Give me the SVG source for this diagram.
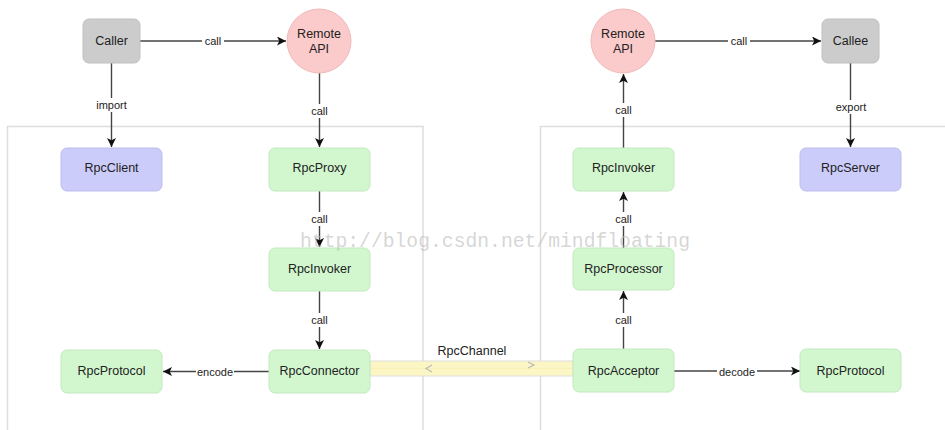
<svg xmlns="http://www.w3.org/2000/svg" width="945" height="430" viewBox="0 0 945 430">
<style>
text{font-family:"Liberation Sans",Arial,sans-serif;fill:#222}
.n{font-size:12.5px;text-anchor:middle;dominant-baseline:central}
.l{font-size:11px;text-anchor:middle;dominant-baseline:central}
.lb{fill:#fff}
.e{stroke:#444;stroke-width:1.4;fill:none}
.green{fill:#d2f7cf;stroke:#c3e8c0;stroke-width:1}
.blue{fill:#ccccfa;stroke:#bdbdee;stroke-width:1}
.gray{fill:#cccccc;stroke:#c0c0c0;stroke-width:1}
.pink{fill:#fbcaca;stroke:#f0baba;stroke-width:1}
.cont{fill:none;stroke:#dddddd;stroke-width:1.5}
</style>
<defs>
<marker id="ah" viewBox="0 0 10 10" refX="10" refY="5" markerWidth="9" markerHeight="9" markerUnits="userSpaceOnUse" orient="auto">
<path d="M0,0 L10,5 L0,10 L2.5,5 Z" fill="#111"/>
</marker>
</defs>
<rect width="945" height="430" fill="#fff"/>
<g id="containers">
<rect class="cont" x="7.5" y="126.5" width="415.5" height="320"/>
<rect class="cont" x="540.5" y="126.5" width="420" height="320"/>
</g>
<g id="connectors">
<line class="e" x1="140" y1="41" x2="286" y2="41" marker-end="url(#ah)"/>
<rect class="lb" x="202" y="34" width="22" height="14"/><text class="l" x="213" y="41">call</text>
<line class="e" x1="111.5" y1="63" x2="111.5" y2="147" marker-end="url(#ah)"/>
<rect class="lb" x="94" y="98" width="36" height="14"/><text class="l" x="111.5" y="105">import</text>
<line class="e" x1="319.5" y1="73" x2="319.5" y2="147" marker-end="url(#ah)"/>
<rect class="lb" x="308" y="104" width="23" height="14"/><text class="l" x="319.5" y="111">call</text>
<line class="e" x1="319.5" y1="191" x2="319.5" y2="247" marker-end="url(#ah)"/>
<rect class="lb" x="308" y="212" width="23" height="14"/><text class="l" x="319.5" y="219">call</text>
<line class="e" x1="319.5" y1="291" x2="319.5" y2="349" marker-end="url(#ah)"/>
<rect class="lb" x="308" y="313" width="23" height="14"/><text class="l" x="319.5" y="320">call</text>
<line class="e" x1="269" y1="371.5" x2="163" y2="371.5" marker-end="url(#ah)"/>
<rect class="lb" x="196" y="364" width="38" height="14"/><text class="l" x="215" y="371.5">encode</text>
<line class="e" x1="655" y1="41" x2="821" y2="41" marker-end="url(#ah)"/>
<rect class="lb" x="728" y="34" width="22" height="14"/><text class="l" x="739" y="41">call</text>
<line class="e" x1="850.5" y1="63" x2="850.5" y2="147" marker-end="url(#ah)"/>
<rect class="lb" x="832" y="100" width="38" height="14"/><text class="l" x="851" y="107">export</text>
<line class="e" x1="623.5" y1="148" x2="623.5" y2="74" marker-end="url(#ah)"/>
<rect class="lb" x="612" y="103" width="23" height="14"/><text class="l" x="623.5" y="110">call</text>
<line class="e" x1="623.5" y1="248" x2="623.5" y2="192" marker-end="url(#ah)"/>
<rect class="lb" x="612" y="212" width="23" height="14"/><text class="l" x="623.5" y="219">call</text>
<line class="e" x1="623.5" y1="349" x2="623.5" y2="291" marker-end="url(#ah)"/>
<rect class="lb" x="612" y="313" width="23" height="14"/><text class="l" x="623.5" y="320">call</text>
<line class="e" x1="674" y1="371" x2="800" y2="371" marker-end="url(#ah)"/>
<rect class="lb" x="717" y="364" width="40" height="14"/><text class="l" x="737" y="371.5">decode</text>
</g>
<g id="RpcChannel">
<rect x="370" y="361" width="203" height="15" fill="#fbf6c3" stroke="#dedede" stroke-width="1"/>
<line x1="370" y1="368.5" x2="573" y2="368.5" stroke="#f5eaa8" stroke-width="0.5"/>
<path d="M528,362 L534,365 L528,368" fill="none" stroke="#bbb" stroke-width="1.2"/>
<path d="M432,365 L426,368.5 L432,372" fill="none" stroke="#bbb" stroke-width="1.2"/>
<text x="472" y="351" style="font-size:12.5px;text-anchor:middle;dominant-baseline:central">RpcChannel</text>
</g>
<g id="Caller"><rect class="gray" x="83" y="19" width="57" height="44" rx="6"/><text class="n" x="111.5" y="41">Caller</text></g>
<g id="RemoteAPI1"><circle class="pink" cx="319" cy="41" r="32"/><text class="n" x="319" y="34">Remote</text><text class="n" x="319" y="49">API</text></g>
<g id="RpcClient"><rect class="blue" x="61" y="148" width="101" height="43" rx="6"/><text class="n" x="111.5" y="167.5">RpcClient</text></g>
<g id="RpcProxy"><rect class="green" x="269" y="148" width="101" height="43" rx="6"/><text class="n" x="319.5" y="167.5">RpcProxy</text></g>
<g id="RpcInvoker1"><rect class="green" x="269" y="248" width="101" height="43" rx="6"/><text class="n" x="319.5" y="269">RpcInvoker</text></g>
<g id="RpcConnector"><rect class="green" x="269" y="350" width="101" height="43" rx="6"/><text class="n" x="319.5" y="371">RpcConnector</text></g>
<g id="RpcProtocol1"><rect class="green" x="61" y="350" width="101" height="43" rx="6"/><text class="n" x="111.5" y="371">RpcProtocol</text></g>
<g id="RemoteAPI2"><circle class="pink" cx="623" cy="41" r="32"/><text class="n" x="623" y="34">Remote</text><text class="n" x="623" y="49">API</text></g>
<g id="Callee"><rect class="gray" x="822" y="19" width="57" height="44" rx="6"/><text class="n" x="850.5" y="41">Callee</text></g>
<g id="RpcInvoker2"><rect class="green" x="573" y="148" width="101" height="43" rx="6"/><text class="n" x="623.5" y="167.5">RpcInvoker</text></g>
<g id="RpcServer"><rect class="blue" x="800" y="148" width="101" height="43" rx="6"/><text class="n" x="850.5" y="167.5">RpcServer</text></g>
<g id="RpcProcessor"><rect class="green" x="573" y="248" width="101" height="42" rx="6"/><text class="n" x="623.5" y="269">RpcProcessor</text></g>
<g id="RpcAcceptor"><rect class="green" x="573" y="349" width="101" height="43" rx="6"/><text class="n" x="623.5" y="370.5">RpcAcceptor</text></g>
<g id="RpcProtocol2"><rect class="green" x="800" y="349" width="101" height="43" rx="6"/><text class="n" x="850.5" y="370.5">RpcProtocol</text></g>
<text x="300" y="247" textLength="390" lengthAdjust="spacingAndGlyphs" style="font-family:'Liberation Mono','DejaVu Sans Mono',monospace;font-size:20px;fill:#bbbbbb;fill-opacity:0.6">http://blog.csdn.net/mindfloating</text>
</svg>
